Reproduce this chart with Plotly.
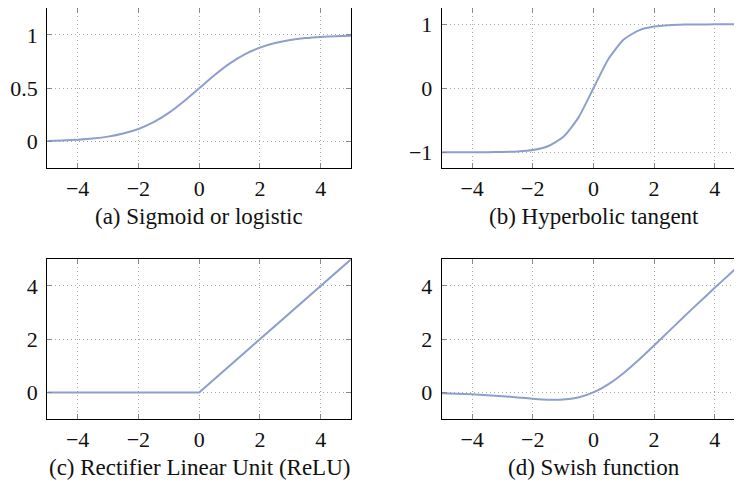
import plotly.graph_objects as go

# ---- data ----
x_smooth = [-5, -4.5, -4, -3.5, -3, -2.5, -2, -1.5, -1, -0.5, 0,
            0.5, 1, 1.5, 2, 2.5, 3, 3.5, 4, 4.5, 5]
sigmoid_y = [0.007, 0.011, 0.018, 0.029, 0.047, 0.076, 0.119, 0.182, 0.269, 0.378, 0.5,
             0.622, 0.731, 0.818, 0.881, 0.924, 0.953, 0.971, 0.982, 0.989, 0.993]
tanh_y = [-1.0, -1.0, -0.999, -0.998, -0.995, -0.987, -0.964, -0.905, -0.762, -0.462, 0.0,
          0.462, 0.762, 0.905, 0.964, 0.987, 0.995, 0.998, 0.999, 1.0, 1.0]
relu_x = [-5, 0, 5]
relu_y = [0, 0, 5]
swish_y = [-0.034, -0.049, -0.072, -0.104, -0.142, -0.190, -0.238, -0.274, -0.269, -0.189, 0.0,
           0.311, 0.731, 1.226, 1.762, 2.310, 2.858, 3.396, 3.928, 4.451, 4.967]

x_ticks = [-4, -2, 0, 2, 4]
y_ticks_a = [0, 0.5, 1]
y_ticks_b = [-1, 0, 1]
y_ticks_cd = [0, 2, 4]
captions = ["(a) Sigmoid or logistic", "(b) Hyperbolic tangent",
            "(c) Rectifier Linear Unit (ReLU)", "(d) Swish function"]

# page body has an 8px default margin -> work in window pixels, shift by OFF
OFF = 8
W, H = 742 - OFF, 483 - OFF
LINE = "#8DA0CB"
TICKFONT = dict(family="Liberation Serif", size=22, color="#111")
CAPFONT = dict(family="Liberation Serif", size=23, color="#111")

fig = go.Figure()

# pixel geometry in window coordinates
left_l, right_l = 47.3, 351.0
left_r, right_r = 441.8, 742.0
top_t, bot_t = 8.3, 168.3
top_b, bot_b = 259.3, 419.0

def dom_x(a, b):
    return [(a - OFF) / W, (b - OFF) / W]

def dom_y(t, b):
    return [1 - (b - OFF) / H, 1 - (t - OFF) / H]

panels = [
    (x_smooth, sigmoid_y, "spline", dom_x(left_l, right_l), dom_y(top_t, bot_t), [-5, 5], [-0.25, 1.25], y_ticks_a, ["0", "0.5", "1"], True),
    (x_smooth, tanh_y, "spline", dom_x(left_r, right_r), dom_y(top_t, bot_t), [-5, 4.9], [-1.25, 1.25], y_ticks_b, ["\u22121", "0", "1"], False),
    (relu_x, relu_y, "linear", dom_x(left_l, right_l), dom_y(top_b, bot_b), [-5, 5], [-1, 5], y_ticks_cd, ["0", "2", "4"], True),
    (x_smooth, swish_y, "spline", dom_x(left_r, right_r), dom_y(top_b, bot_b), [-5, 4.9], [-1, 5], y_ticks_cd, ["0", "2", "4"], False),
]

layout = {}
for i, (xs, ys, shape, dx, dy, xr, yr, yt, ytl, ymirror) in enumerate(panels):
    n = "" if i == 0 else str(i + 1)
    line = dict(color=LINE, width=2, shape=shape)
    if shape == "spline":
        line["smoothing"] = 0.6
    fig.add_trace(go.Scatter(x=xs, y=ys, mode="lines", line=line,
                             xaxis="x" + n, yaxis="y" + n, showlegend=False,
                             hoverinfo="skip"))
    common = dict(showline=True, linecolor="black", linewidth=1.2,
                  ticks="inside", ticklen=5, tickcolor="#888", tickwidth=1,
                  showgrid=True, gridcolor="#aaa", gridwidth=1, griddash="1px,3px",
                  zeroline=False, tickfont=TICKFONT)
    layout["xaxis" + n] = dict(common, domain=dx, range=xr, anchor="y" + n,
                               tickvals=x_ticks,
                               ticktext=[("\u2212" + str(-v)) if v < 0 else str(v) for v in x_ticks],
                               mirror="ticks", ticklabelstandoff=0)
    layout["yaxis" + n] = dict(common, domain=dy, range=yr, anchor="x" + n,
                               tickvals=yt, ticktext=ytl,
                               mirror="ticks" if ymirror else False, ticklabelstandoff=4)

annotations = []
cap_pos = [((left_l + right_l) / 2, 217), (593.7, 217), ((left_l + right_l) / 2, 467), (593.7, 467)]
for cap, (cx, cy) in zip(captions, cap_pos):
    annotations.append(dict(text=cap, x=(cx - OFF) / W, y=1 - (cy - OFF) / H,
                            xref="paper", yref="paper",
                            xanchor="center", yanchor="middle", showarrow=False, font=CAPFONT))

fig.update_layout(**layout)
fig.update_layout(width=W, height=H, margin=dict(l=0, r=0, t=0, b=0),
                  paper_bgcolor="white", plot_bgcolor="white",
                  annotations=annotations)

fig.write_html("out.html")
